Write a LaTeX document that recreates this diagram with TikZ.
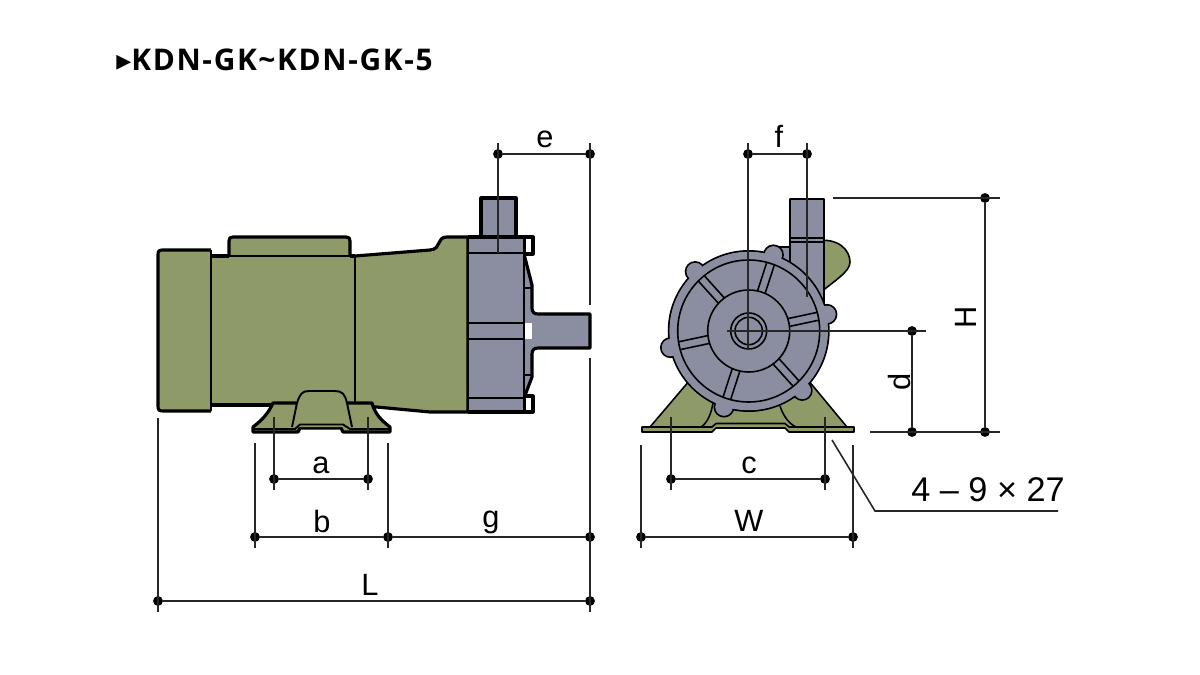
\documentclass[tikz,border=0pt]{standalone}
\usepackage{fontspec}
\setmainfont{Liberation Sans}
\newfontfamily\titlefont[LetterSpace=5.5]{Open Sans}
\newfontfamily\markfont{DejaVu Sans}
\usepackage{xcolor}
\definecolor{motorgreen}{RGB}{142,155,105}
\definecolor{pumpgray}{RGB}{138,142,160}
\tikzset{
	thickline/.style={draw=black,line width=1.8pt,line join=round},
	thinline/.style={draw=black,line width=1.1pt,line join=round},
	frontline/.style={draw=black,line width=0.9pt,line join=round},
	dimline/.style={draw=black!85,line width=0.9pt},
	dimdot/.style={circle,fill=black,inner sep=0pt,minimum size=5.6pt},
	dimlabel/.style={font=\fontsize{17.5}{20}\selectfont,inner sep=0pt},
}

\begin{document}
\begin{tikzpicture}[x=0.02cm,y=-0.02cm]
	\useasboundingbox (0,0) rectangle (1200,675);
	\node[anchor=west,inner sep=0pt,font=\fontsize{17}{20}\selectfont\titlefont\bfseries] (title) at (116,60) {{\markfont ▸}KDN-GK\char`~KDN-GK-5};

	% side view, motor
	\begin{scope}
		\fill[motorgreen] (211,256) rectangle (355,405);
		\draw[thickline,fill=motorgreen] (355,256) -- (430,250) .. controls (442,249) and (436,237) .. (447,237) -- (468,237) -- (468,412) -- (430,412) -- (355,405);
		\draw[thinline] (355,256) -- (355,405);
		\draw[thickline,fill=motorgreen] (229,256) -- (229,241) .. controls (229,238) and (230,237) .. (233,237) -- (346,237) .. controls (349,237) and (350,238) .. (350,241) -- (350,256);
		\draw[thinline] (229,256) -- (350,256);
		\draw[thickline] (211,256) -- (229,256) (350,256) -- (355,256);
		\draw[thickline] (211,405) -- (355,405);
		\draw[thickline,fill=motorgreen] (211,250) -- (163,250) .. controls (159,250) and (158,251) .. (158,255) -- (158,406) .. controls (158,410) and (159,411) .. (163,411) -- (211,411);
		\draw[thinline] (211,250) -- (211,411);
	\end{scope}

	% side view, foot
	\draw[thickline,fill=motorgreen] (273,403) -- (372,403) .. controls (375,414) and (381,420) .. (390,427) -- (390,432) -- (343,432) -- (341,428) -- (300,428) -- (298,432) -- (253,432) -- (253,427) .. controls (262,420) and (268,414) .. (273,403) -- cycle;
	\draw[thinline,fill=motorgreen] (292,427) -- (297,403) .. controls (300,394) and (302,391) .. (309,391) -- (335,391) .. controls (342,391) and (345,394) .. (347,403) -- (352,427);
	\draw[thinline] (253,429) -- (295,429) -- (300,424.5) -- (343,424.5) -- (350,429) -- (390,429);

	% side view, pump head
	\draw[thickline,fill=pumpgray] (481,237) -- (481,198) -- (516,198) -- (516,237);
	\draw[thickline,fill=pumpgray] (524,254) -- (532,285) -- (532,308) .. controls (532,312) and (534,314) .. (538,314) -- (590,314) -- (590,348) -- (538,348) .. controls (534,348) and (532,350) .. (532,354) -- (532,377) -- (524,398);
	\draw[thickline,fill=white] (524,237) rectangle (533,254);
	\draw[thickline,fill=white] (524,396) rectangle (533,412);
	\fill[white] (525,323) rectangle (532,339);
	\draw[thinline] (524,288) -- (532,288) (524,375) -- (532,375);
	\fill[pumpgray] (468,237) rectangle (524,412);
	\draw[thickline] (468,237) -- (524,237) (468,412) -- (524,412);
	\draw[thinline] (468,237) -- (468,412) (524,237) -- (524,412);
	\draw[thinline] (468,253) -- (524,253) (468,323) -- (524,323) (468,339) -- (524,339) (468,398) -- (524,398);

	% front view, foot and back
	\draw[frontline,fill=motorgreen] (650,427) -- (690,380) -- (808,380) -- (847,427) -- cycle;
	\draw[frontline] (713,403) .. controls (711,415) and (707,423) .. (701,427) (780,406) .. controls (784,418) and (790,424) .. (796,427);
	\draw[frontline,fill=motorgreen] (642,427) -- (712,427) -- (716,423.5) -- (785,423.5) -- (789,427) -- (854,427) -- (854,432) -- (789,432) -- (785,428) -- (716,428) -- (712,432) -- (642,432) -- cycle;
	\draw[frontline,fill=motorgreen] (815,241) .. controls (838,237) and (850,250) .. (850,262) .. controls (850,272) and (835,280) .. (815,297) -- cycle;

	% front view, pipe
	\draw[frontline,fill=pumpgray] (770,247) -- (790,247) -- (790,270) -- (775,270) -- cycle;
	\draw[frontline,fill=pumpgray] (790,270) -- (790,199) -- (824,199) -- (824,305) -- cycle;
	\draw[frontline] (790,238) -- (824,238) (790,242) -- (824,242);

	% front view, wheel
	\begin{scope}[shift={(748.7,331)}]
		\foreach \ang in {12,72,...,312}
			\draw[thinline,fill=pumpgray] (-\ang:80) circle (9.5);
		\draw[thinline,fill=pumpgray] (0,0) circle (80);
		\foreach \ang in {12,72,...,312}
			\fill[pumpgray] (-\ang:80) circle (8.7);
		\fill[pumpgray] (0,0) circle (79.2);
		\draw[frontline] (0,0) circle (71);
		\draw[frontline] (0,0) circle (41);
		\draw[frontline] (0,0) circle (18);
		\draw[frontline] (0,0) circle (13.7);
		\foreach \ang in {12,72,...,312}
			\draw[frontline,rotate=\ang] (41,-4) -- (71,-4) (41,4) -- (71,4);
	\end{scope}

	% dimension points
	\node[dimdot] (e1) at (498,154) {};
	\node[dimdot] (e2) at (590,154) {};
	\node[dimdot] (f1) at (748,154) {};
	\node[dimdot] (f2) at (807,154) {};
	\node[dimdot] (a1) at (274,479) {};
	\node[dimdot] (a2) at (368,479) {};
	\node[dimdot] (c1) at (671,479) {};
	\node[dimdot] (c2) at (825,479) {};
	\node[dimdot] (b1) at (255,537) {};
	\node[dimdot] (b2) at (388,537) {};
	\node[dimdot] (g2) at (590,537) {};
	\node[dimdot] (w1) at (641,537) {};
	\node[dimdot] (w2) at (853,537) {};
	\node[dimdot] (l1) at (158,601) {};
	\node[dimdot] (l2) at (590,601) {};
	\node[dimdot] (h1) at (985,198) {};
	\node[dimdot] (h2) at (985,432) {};
	\node[dimdot] (d1) at (912,331) {};
	\node[dimdot] (d2) at (912,432) {};

	% dimension lines
	\draw[dimline] (e1) -- (e2);
	\draw[dimline] (f1) -- (f2);
	\draw[dimline] (a1) -- (a2);
	\draw[dimline] (c1) -- (c2);
	\draw[dimline] (b1) -- (b2);
	\draw[dimline] (b2) -- (g2);
	\draw[dimline] (w1) -- (w2);
	\draw[dimline] (l1) -- (l2);
	\draw[dimline] (h1) -- (h2);
	\draw[dimline] (d1) -- (d2);

	% extension lines
	\coordinate (et) at (498,143);
	\coordinate (eb) at (498,253);
	\coordinate (gt) at (590,143);
	\coordinate (gm) at (590,305);
	\coordinate (gn) at (590,358);
	\coordinate (gb) at (590,612);
	\coordinate (ft) at (748,143);
	\coordinate (fb) at (748,350);
	\coordinate (kt) at (807,143);
	\coordinate (kb) at (807,297);
	\coordinate (cl) at (727,331);
	\coordinate (cr) at (926,331);
	\coordinate (ht) at (833,198);
	\coordinate (hr) at (1000,198);
	\coordinate (dl) at (870,432);
	\coordinate (dr) at (1000,432);
	\coordinate (lt) at (158,418);
	\coordinate (lb) at (158,612);
	\coordinate (at) at (274,417);
	\coordinate (ab) at (274,490);
	\coordinate (bt) at (368,417);
	\coordinate (bb) at (368,490);
	\coordinate (mt) at (255,443);
	\coordinate (mb) at (255,548);
	\coordinate (nt) at (388,443);
	\coordinate (nb) at (388,548);
	\coordinate (pt) at (671,417);
	\coordinate (pb) at (671,490);
	\coordinate (qt) at (825,417);
	\coordinate (qb) at (825,490);
	\coordinate (rt) at (641,445);
	\coordinate (rb) at (641,548);
	\coordinate (st) at (853,445);
	\coordinate (sb) at (853,548);
	\draw[dimline] (et) -- (eb);
	\draw[dimline] (gt) -- (gm);
	\draw[dimline] (gn) -- (gb);
	\draw[dimline,line width=1pt] (ft) -- (fb);
	\draw[dimline,line width=1pt] (kt) -- (kb);
	\draw[dimline,line width=1pt] (cl) -- (cr);
	\draw[dimline] (ht) -- (hr);
	\draw[dimline] (dl) -- (dr);
	\draw[dimline] (lt) -- (lb);
	\draw[dimline] (at) -- (ab);
	\draw[dimline] (bt) -- (bb);
	\draw[dimline] (mt) -- (mb);
	\draw[dimline] (nt) -- (nb);
	\draw[dimline] (pt) -- (pb);
	\draw[dimline] (qt) -- (qb);
	\draw[dimline] (rt) -- (rb);
	\draw[dimline] (st) -- (sb);

	% leader
	\coordinate (holea) at (832,440);
	\coordinate (holeb) at (875,511);
	\coordinate (holec) at (1058,511);
	\draw[dimline] (holea) -- (holeb) -- (holec);

	% labels
	\node[dimlabel] (elabel) at (545,139) {e};
	\node[dimlabel] (flabel) at (779,136) {f};
	\node[dimlabel] (alabel) at (321,465) {a};
	\node[dimlabel] (clabel) at (749,465) {c};
	\node[dimlabel] (blabel) at (322,522) {b};
	\node[dimlabel] (glabel) at (491,522) {g};
	\node[dimlabel] (wlabel) at (749,521) {W};
	\node[dimlabel] (llabel) at (370,585) {L};
	\node[dimlabel,rotate=90] (hlabel) at (966,317) {H};
	\node[dimlabel,rotate=90] (dlabel) at (899,382) {d};
	\node[dimlabel,font=\fontsize{19.5}{21}\selectfont] (holes) at (988,490) {4 – 9 × 27};
\end{tikzpicture}
\end{document}
